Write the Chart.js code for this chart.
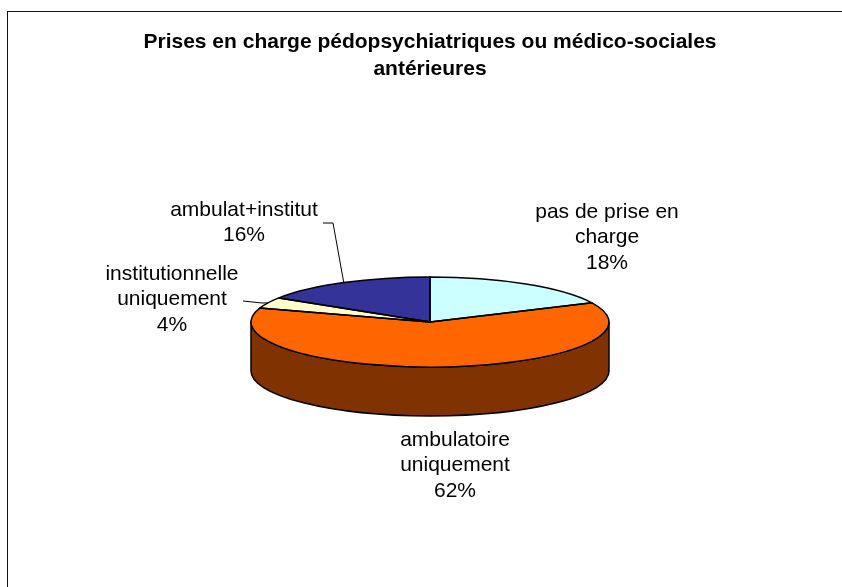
<!DOCTYPE html>
<html>
<head>
<meta charset="utf-8">
<script src="https://cdn.jsdelivr.net/npm/chart.js@4"></script>
<style>
  html, body { margin: 0; padding: 0; background: #fff; overflow: hidden; }
  #wrap { position: relative; width: 842px; height: 587px; }
  #frame { position: absolute; left: 7px; top: 11px; width: 900px; height: 700px; border: 1.5px solid #111; }
  #pie { position: absolute; left: 0; top: 0; }
</style>
</head>
<body>
<div id="wrap">
  <div id="frame"></div>
  <canvas id="pie" width="842" height="587"></canvas>
</div>
<script>
// data
const categories = ["pas de prise en charge", "ambulatoire uniquement", "institutionnelle uniquement", "ambulat+institut"];
const shares = [18, 62, 4, 16];
const labelLines = [["pas de prise en", "charge"], ["ambulatoire", "uniquement"], ["institutionnelle", "uniquement"], ["ambulat+institut"]];
const topColors = ["#CCFFFF", "#FF6600", "#FFFFCC", "#333399"];
const sideColors = ["#668080", "#803300", "#808066", "#1A1A4D"];

const FONT = "'Liberation Sans', Arial, sans-serif";
const tilt = 45 / 179;   // vertical squash of the pie
const depth = 49;        // thickness of the 3d wall

// label placement relative to pie centre, plus optional leader line (start, elbow)
const labelSpots = [
  { dx: 177, dy: -110 },
  { dx: 25, dy: 118 },
  { dx: -258, dy: -48, lead: [[-187, -21], [-168, -19]] },
  { dx: -186, dy: -112, lead: [[-107, -99], [-97, -99]] }
];

function edgePoint(arc, angle) {
  return [arc.x + arc.outerRadius * Math.cos(angle), arc.y + arc.outerRadius * tilt * Math.sin(angle)];
}

const pie3d = {
  id: "pie3d",
  beforeDatasetsDraw(chart) {
    const ctx = chart.ctx;
    const arcs = chart.getDatasetMeta(0).data;
    // front wall
    arcs.forEach((arc, i) => {
      const a1 = Math.max(arc.startAngle, 0);
      const a2 = Math.min(arc.endAngle, Math.PI);
      if (a2 <= a1) return;
      const ry = arc.outerRadius * tilt;
      ctx.save();
      ctx.beginPath();
      ctx.ellipse(arc.x, arc.y, arc.outerRadius, ry, 0, a1, a2);
      ctx.ellipse(arc.x, arc.y + depth, arc.outerRadius, ry, 0, a2, a1, true);
      ctx.closePath();
      ctx.fillStyle = sideColors[i];
      ctx.fill();
      ctx.lineWidth = 1.5;
      ctx.strokeStyle = "#000";
      ctx.stroke();
      ctx.restore();
    });
    // squash the top face
    const c = arcs[0];
    ctx.save();
    ctx.translate(c.x, c.y);
    ctx.scale(1, tilt);
    ctx.translate(-c.x, -c.y);
  },
  afterDatasetsDraw(chart) {
    const ctx = chart.ctx;
    ctx.restore();
    const arcs = chart.getDatasetMeta(0).data;
    // outlines of the top face
    ctx.save();
    ctx.lineWidth = 1.5;
    ctx.strokeStyle = "#000";
    ctx.lineJoin = "round";
    arcs.forEach(arc => {
      const p = edgePoint(arc, arc.startAngle);
      ctx.beginPath();
      ctx.moveTo(arc.x, arc.y);
      ctx.lineTo(p[0], p[1]);
      ctx.ellipse(arc.x, arc.y, arc.outerRadius, arc.outerRadius * tilt, 0, arc.startAngle, arc.endAngle);
      ctx.closePath();
      ctx.stroke();
    });
    ctx.restore();
  },
  afterDraw(chart) {
    const ctx = chart.ctx;
    const arcs = chart.getDatasetMeta(0).data;
    const total = shares.reduce((a, b) => a + b, 0);
    ctx.save();
    ctx.font = "21px " + FONT;
    ctx.fillStyle = "#000";
    ctx.textAlign = "center";
    ctx.textBaseline = "middle";
    arcs.forEach((arc, i) => {
      const spot = labelSpots[i];
      const lines = labelLines[i].concat([Math.round(shares[i] / total * 100) + "%"]);
      lines.forEach((t, j) => ctx.fillText(t, arc.x + spot.dx, arc.y + spot.dy + j * 25.5));
      if (spot.lead) {
        const end = edgePoint(arc, (arc.startAngle + arc.endAngle) / 2);
        ctx.beginPath();
        ctx.moveTo(arc.x + spot.lead[0][0], arc.y + spot.lead[0][1]);
        ctx.lineTo(arc.x + spot.lead[1][0], arc.y + spot.lead[1][1]);
        ctx.lineTo(end[0], end[1]);
        ctx.lineWidth = 1;
        ctx.strokeStyle = "#000";
        ctx.stroke();
      }
    });
    ctx.restore();
  }
};

new Chart(document.getElementById("pie"), {
  type: "pie",
  data: {
    labels: categories,
    datasets: [{
      data: shares,
      backgroundColor: topColors,
      borderWidth: 0,
      clip: false
    }]
  },
  options: {
    responsive: false,
    animation: false,
    events: [],
    layout: { padding: { left: 18, right: 0, top: 0, bottom: 86 } },
    plugins: {
      legend: { display: false },
      tooltip: { enabled: false },
      title: {
        display: true,
        text: ["Prises en charge pédopsychiatriques ou médico-sociales", "antérieures"],
        color: "#000",
        font: { family: FONT, size: 21, weight: "bold", lineHeight: "27px" },
        padding: { top: 29, bottom: 60 }
      }
    }
  },
  plugins: [pie3d]
});
</script>
</body>
</html>
